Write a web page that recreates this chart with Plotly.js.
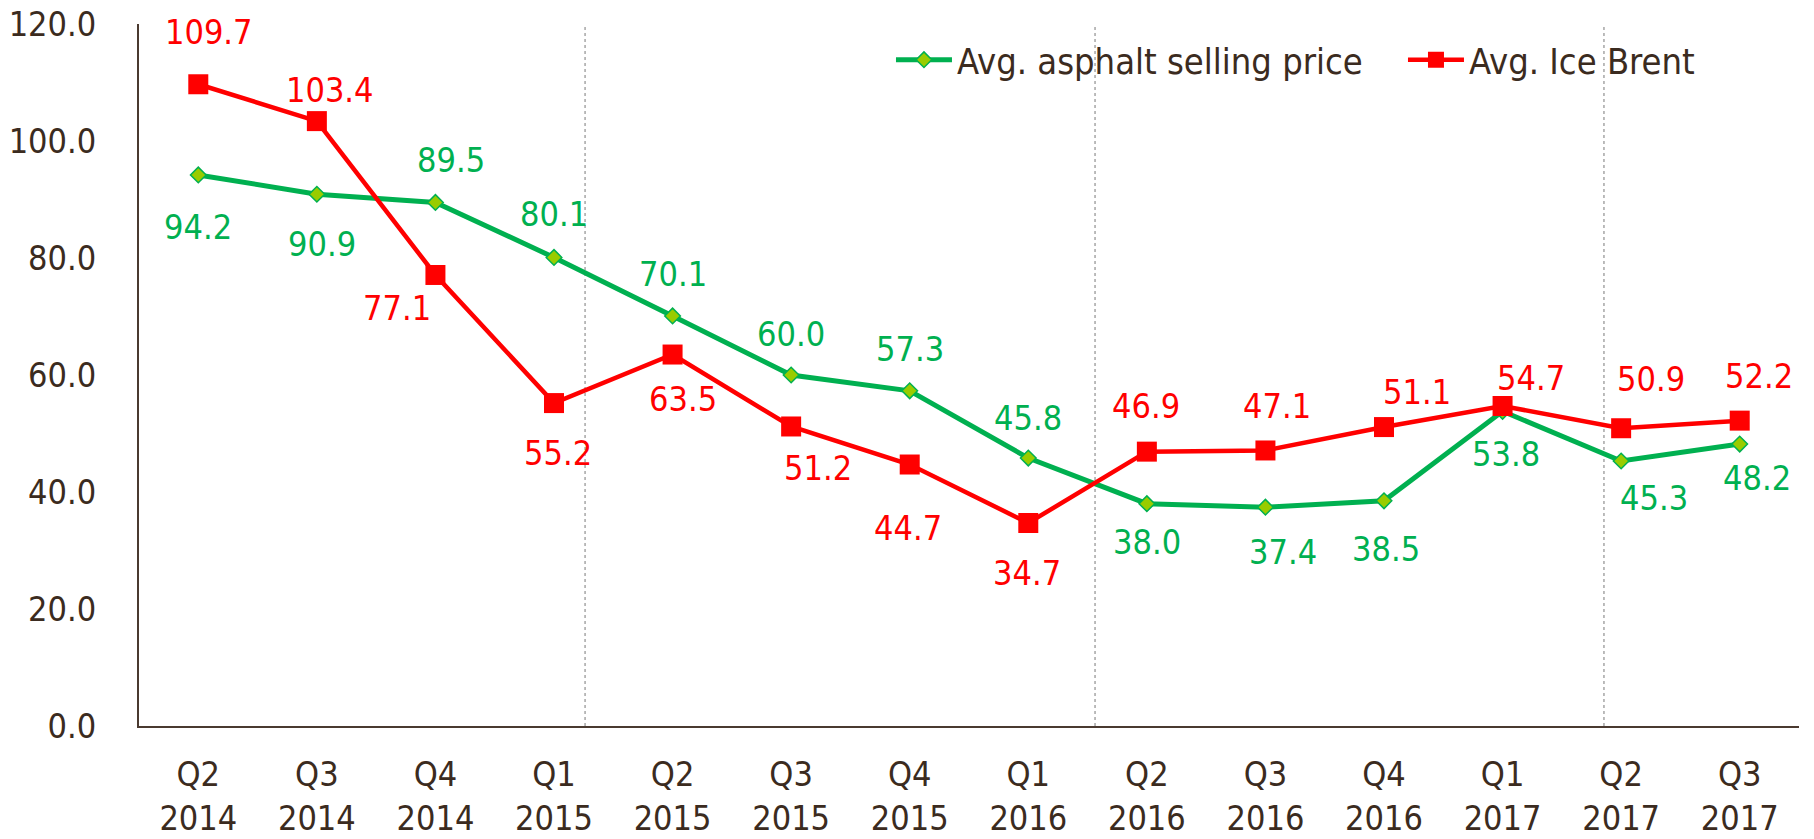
<!DOCTYPE html>
<html>
<head>
<meta charset="utf-8">
<script src="https://cdn.plot.ly/plotly-3.0.1.min.js"></script>
<style>
  html, body { margin: 0; padding: 0; background: #ffffff; }
  #chart { width: 1814px; height: 839px; }
</style>
</head>
<body>
<div id="chart"></div>
<script>
// ---- data ----
const quarters = ['Q2','Q3','Q4','Q1','Q2','Q3','Q4','Q1','Q2','Q3','Q4','Q1','Q2','Q3'];
const years    = ['2014','2014','2014','2015','2015','2015','2015','2016','2016','2016','2016','2017','2017','2017'];
const asphaltName = 'Avg. asphalt selling price';
const brentName   = 'Avg. Ice Brent';
const asphaltPrice = [94.2, 90.9, 89.5, 80.1, 70.1, 60.0, 57.3, 45.8, 38.0, 37.4, 38.5, 53.8, 45.3, 48.2];
const brentPrice   = [109.7, 103.4, 77.1, 55.2, 63.5, 51.2, 44.7, 34.7, 46.9, 47.1, 51.1, 54.7, 50.9, 52.2];
const yTicks = [0, 20, 40, 60, 80, 100, 120];

// ---- label placement (style, px offsets from each marker) ----
const asphaltLabelDx = [0, 5, 16, 0, 0, 0, 0, 0, 0, 18, 2, 3, 33, 17];
const asphaltLabelDy = [-52, -50, 42, 43, 42, 41, 42, 40, -38, -45, -48, -43, -37, -34];
const brentLabelDx   = [11, 13, -38, 4, 10, 27, -2, -1, -1, 12, 33, 28, 30, 19];
const brentLabelDy   = [52, 31, -33, -50, -44, -42, -63, -50, 46, 44, 35, 28, 49, 45];
const dividerPositions = [3.262, 7.563, 11.855];

const categories = quarters.map((q, i) => q + '<br>' + years[i]);

const FONT = 'DejaVu Sans Condensed, DejaVu Sans, Verdana, sans-serif';
const TEXT = '#3b2b20';
const GREEN = '#00b050';
const RED = '#ff0000';

const traces = [
  {
    type: 'scatter', mode: 'lines+markers', name: asphaltName,
    x: categories, y: asphaltPrice,
    line: { color: GREEN, width: 5 },
    marker: { symbol: 'diamond', size: 12, color: '#99cc00', line: { color: GREEN, width: 1.5 } },
    hoverinfo: 'skip'
  },
  {
    type: 'scatter', mode: 'lines+markers', name: brentName,
    x: categories, y: brentPrice,
    line: { color: RED, width: 4.5 },
    marker: { symbol: 'square', size: 20, color: RED },
    hoverinfo: 'skip'
  }
];

const annotations = [];
function addLabels(vals, dx, dy, color) {
  vals.forEach((v, i) => {
    annotations.push({
      x: categories[i], y: v, xref: 'x', yref: 'y',
      text: v.toFixed(1), showarrow: false,
      xanchor: 'center', yanchor: 'middle',
      xshift: dx[i], yshift: dy[i],
      font: { family: FONT, size: 34, color: color }
    });
  });
}
addLabels(asphaltPrice, asphaltLabelDx, asphaltLabelDy, GREEN);
addLabels(brentPrice, brentLabelDx, brentLabelDy, RED);

const shapes = dividerPositions.map(p => ({
  type: 'line', xref: 'x', yref: 'y', x0: p, x1: p, y0: 0, y1: 120,
  line: { color: '#a6a6a6', width: 1.5, dash: 'dot' }, layer: 'below'
}));

const layout = {
  width: 1814, height: 839,
  margin: { l: 139, r: 15, t: 24, b: 113, pad: 0, autoexpand: false },
  paper_bgcolor: '#ffffff', plot_bgcolor: '#ffffff',
  font: { family: FONT, size: 34, color: TEXT },
  showlegend: true,
  legend: {
    orientation: 'h', x: 0.453, xanchor: 'left', y: 0.949, yanchor: 'middle',
    font: { family: FONT, size: 36, color: TEXT },
    bgcolor: 'rgba(0,0,0,0)', entrywidth: 441, entrywidthmode: 'pixels',
    itemwidth: 56
  },
  xaxis: {
    type: 'category', range: [-0.5, 13.5], fixedrange: true,
    showline: true, linecolor: '#4a3a30', linewidth: 2,
    showgrid: false, zeroline: false, ticks: '',
    ticklabelstandoff: 17,
    tickfont: { family: FONT, size: 34, color: TEXT }
  },
  yaxis: {
    range: [0, 120], tickvals: yTicks, tickformat: '.1f', fixedrange: true,
    showline: true, linecolor: '#4a3a30', linewidth: 2,
    showgrid: false, zeroline: false, ticks: '',
    ticklabelstandoff: 34,
    tickfont: { family: FONT, size: 34, color: TEXT }
  },
  annotations: annotations,
  shapes: shapes
};

Plotly.newPlot('chart', traces, layout, { displayModeBar: false, staticPlot: true });
</script>
</body>
</html>
